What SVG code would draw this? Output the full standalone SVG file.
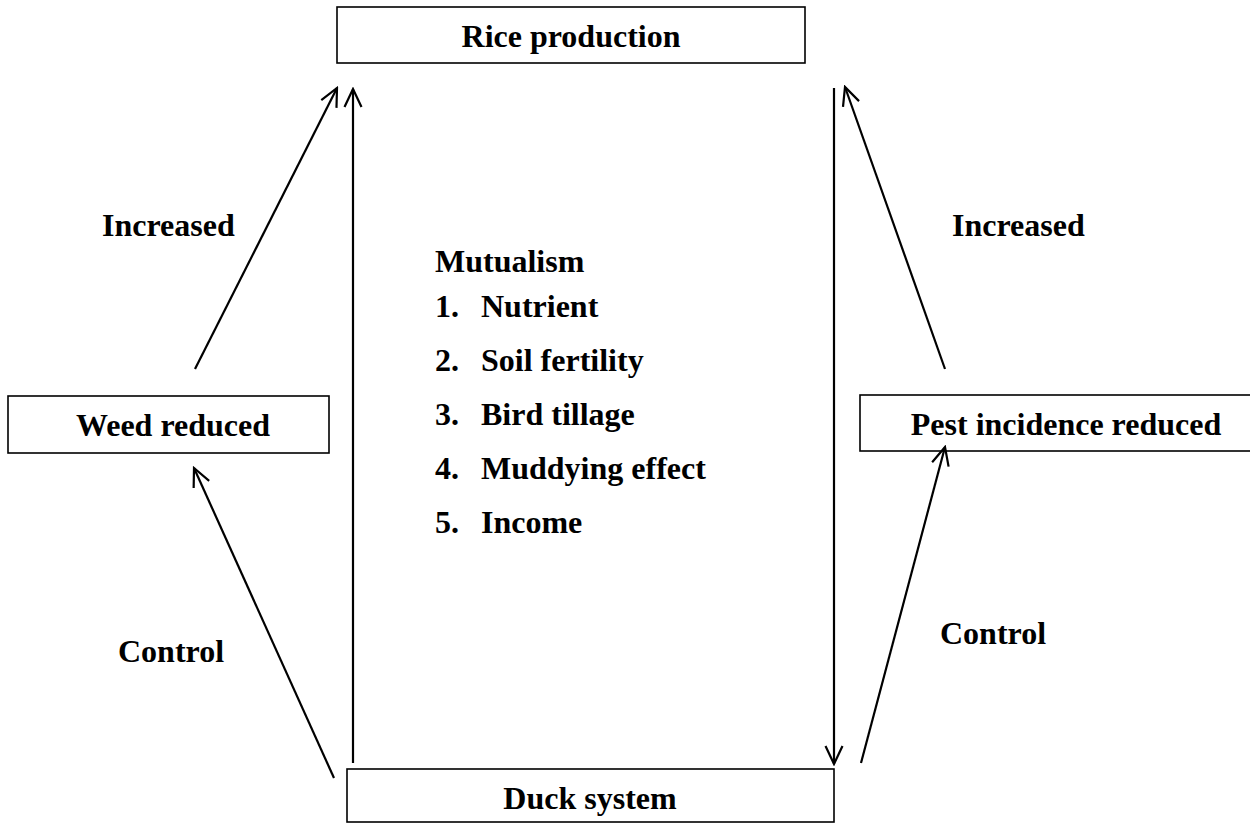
<svg xmlns="http://www.w3.org/2000/svg" width="1250" height="825" viewBox="0 0 1250 825">
<style>
.box{fill:#fff;stroke:#000;stroke-width:1.6}
.t{font-family:"Liberation Serif","Times New Roman",serif;font-weight:bold;font-size:32px;fill:#000}
.c{text-anchor:middle}
.ln{stroke:#000;stroke-width:2.2;fill:none}
</style>
<defs>
<marker id="ah" viewBox="0 0 22 22" refX="20" refY="11" markerWidth="22" markerHeight="22" markerUnits="userSpaceOnUse" orient="auto">
<path d="M2,2.5 L20,11 L2,19.5" fill="none" stroke="#000" stroke-width="2.2"/>
</marker>
</defs>
<rect width="1250" height="825" fill="#fff"/>
<g id="rice">
<rect class="box" x="337" y="7" width="468" height="56"/>
<text class="t c" x="571" y="47">Rice production</text>
</g>
<g id="weed">
<rect class="box" x="8" y="396" width="321" height="57"/>
<text class="t c" x="173" y="436">Weed reduced</text>
</g>
<g id="pest">
<rect class="box" x="860" y="395" width="400" height="56"/>
<text class="t c" x="1066" y="435">Pest incidence reduced</text>
</g>
<g id="duck">
<rect class="box" x="347" y="769" width="487" height="53"/>
<text class="t c" x="590" y="809">Duck system</text>
</g>
<g id="labels">
<text class="t" x="102" y="236">Increased</text>
<text class="t" x="952" y="236">Increased</text>
<text class="t" x="118" y="662">Control</text>
<text class="t" x="940" y="644">Control</text>
</g>
<g id="mutualism">
<text class="t" x="435" y="272">Mutualism</text>
<text class="t" x="435" y="317">1.</text><text class="t" x="481" y="317">Nutrient</text>
<text class="t" x="435" y="371">2.</text><text class="t" x="481" y="371">Soil fertility</text>
<text class="t" x="435" y="425">3.</text><text class="t" x="481" y="425">Bird tillage</text>
<text class="t" x="435" y="479">4.</text><text class="t" x="481" y="479">Muddying effect</text>
<text class="t" x="435" y="533">5.</text><text class="t" x="481" y="533">Income</text>
</g>
<g id="connectors">
<line class="ln" x1="353" y1="763" x2="353" y2="89" marker-end="url(#ah)"/>
<line class="ln" x1="834" y1="88" x2="834" y2="764" marker-end="url(#ah)"/>
<line class="ln" x1="195" y1="369" x2="337" y2="88" marker-end="url(#ah)"/>
<line class="ln" x1="334" y1="778" x2="194" y2="468" marker-end="url(#ah)"/>
<line class="ln" x1="945" y1="369" x2="845" y2="87" marker-end="url(#ah)"/>
<line class="ln" x1="861" y1="763" x2="945" y2="447" marker-end="url(#ah)"/>
</g>
</svg>
